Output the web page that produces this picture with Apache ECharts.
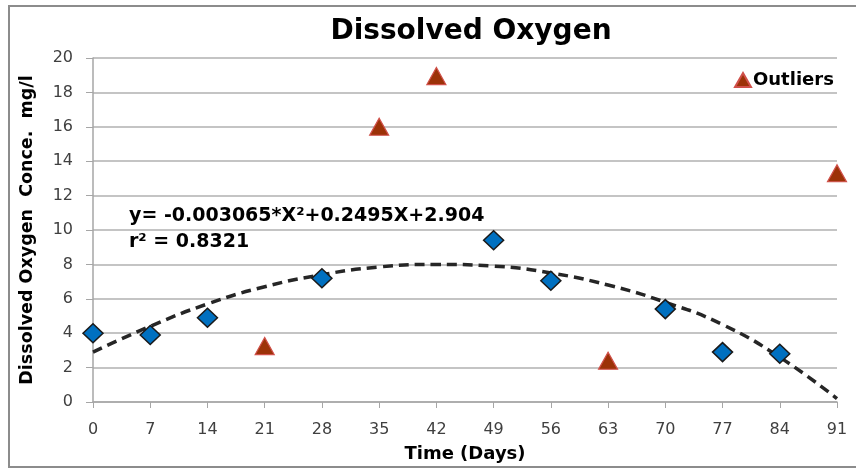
<!DOCTYPE html>
<html>
<head>
<meta charset="utf-8">
<script src="https://cdn.jsdelivr.net/npm/echarts@6/dist/echarts.min.js"></script>
<style>
  html, body { margin: 0; padding: 0; background: #fff; }
  #chart { width: 856px; height: 468px; }
</style>
</head>
<body>
<div id="chart"></div>
<script>
// measured values (days, mg/l)
const normalDays = [0, 7, 14, 28, 49, 56, 70, 77, 84];
const normalDO = [4.0, 3.9, 4.9, 7.2, 9.4, 7.05, 5.4, 2.9, 2.8];

const outlierDays = [21, 35, 42, 63, 91];
const outlierDO = [3.25, 16.0, 18.95, 2.4, 13.3];

// trend line
const trendDays = [0, 7, 14, 21, 28, 35, 42, 49, 56, 63, 70, 77, 84, 91];
const trendDO = [2.9, 4.4, 5.7, 6.7, 7.4, 7.85, 8.0, 7.9, 7.5, 6.8, 5.8, 4.5, 2.6, 0.2];

const eqLine1 = 'y= -0.003065*X\u00b2+0.2495X+2.904';
const eqLine2 = 'r\u00b2 = 0.8321';

const pairs = (xs, ys) => xs.map((x, i) => [x, ys[i]]);

let myChart = echarts.init(document.getElementById('chart'));
let option = {
    backgroundColor: '#fff',
    animation: false,
    textStyle: { fontFamily: 'DejaVu Sans' },
    title: {
        text: 'Dissolved Oxygen',
        left: 466,
        top: 13,
        textAlign: 'center',
        textStyle: { fontSize: 28, fontWeight: 'bold', color: '#000' }
    },
    legend: {
        data: ['Outliers'],
        left: 729,
        top: 66,
        icon: 'triangle',
        itemWidth: 16,
        itemHeight: 14,
        itemGap: 4,
        textStyle: { fontSize: 18, fontWeight: 'bold', color: '#000', padding: [0, 0, 0, -3] }
    },
    grid: { left: 93, right: 19, top: 58, bottom: 65 },
    xAxis: {
        type: 'value',
        min: 0,
        max: 91,
        interval: 7,
        name: 'Time (Days)',
        nameLocation: 'middle',
        nameGap: 43,
        nameTextStyle: { fontSize: 18, fontWeight: 'bold', color: '#000' },
        splitLine: { show: false },
        axisLine: { lineStyle: { color: '#a6a6a6', width: 1.5 } },
        axisTick: { show: true, length: 6, lineStyle: { color: '#a6a6a6' } },
        axisLabel: { fontSize: 16, color: '#404040', margin: 20 }
    },
    yAxis: {
        type: 'value',
        min: 0,
        max: 20,
        interval: 2,
        name: 'Dissolved Oxygen  Conce.  mg/l',
        nameLocation: 'middle',
        nameGap: 57,
        nameTextStyle: { fontSize: 17.5, fontWeight: 'bold', color: '#000' },
        axisLine: { show: true, lineStyle: { color: '#a6a6a6', width: 1.5 } },
        axisTick: { show: true, length: 7, lineStyle: { color: '#a6a6a6' } },
        splitLine: { lineStyle: { color: '#b0b0b0', width: 1.5 } },
        axisLabel: { fontSize: 16, color: '#404040', margin: 20 }
    },
    graphic: [
        {
            type: 'rect',
            shape: { x: 9, y: 6, width: 900, height: 461 },
            style: { fill: 'none', stroke: '#8c8c8c', lineWidth: 2 },
            silent: true
        },
        {
            type: 'text',
            left: 129,
            top: 207,
            style: { text: eqLine1, font: 'bold 19px "DejaVu Sans"', fill: '#000' }
        },
        {
            type: 'text',
            left: 129,
            top: 233,
            style: { text: eqLine2, font: 'bold 19px "DejaVu Sans"', fill: '#000' }
        }
    ],
    series: [
        {
            name: 'Trend',
            type: 'line',
            smooth: true,
            showSymbol: false,
            data: pairs(trendDays, trendDO),
            lineStyle: { color: '#262626', width: 3.5, type: [10, 6] },
            z: 2
        },
        {
            name: 'DO',
            type: 'scatter',
            symbol: 'diamond',
            symbolSize: [20, 19],
            data: pairs(normalDays, normalDO),
            itemStyle: { color: '#0070c0', borderColor: '#1a1a1a', borderWidth: 1.5, opacity: 1 },
            z: 3
        },
        {
            name: 'Outliers',
            type: 'scatter',
            symbol: 'triangle',
            symbolSize: [19, 17],
            data: pairs(outlierDays, outlierDO),
            itemStyle: { color: '#9c3208', borderColor: '#d0504a', borderWidth: 1.2, opacity: 1 },
            z: 3
        }
    ]
};
if (option && typeof option === 'object') {
    myChart.setOption(option, true);
}
</script>
</body>
</html>
